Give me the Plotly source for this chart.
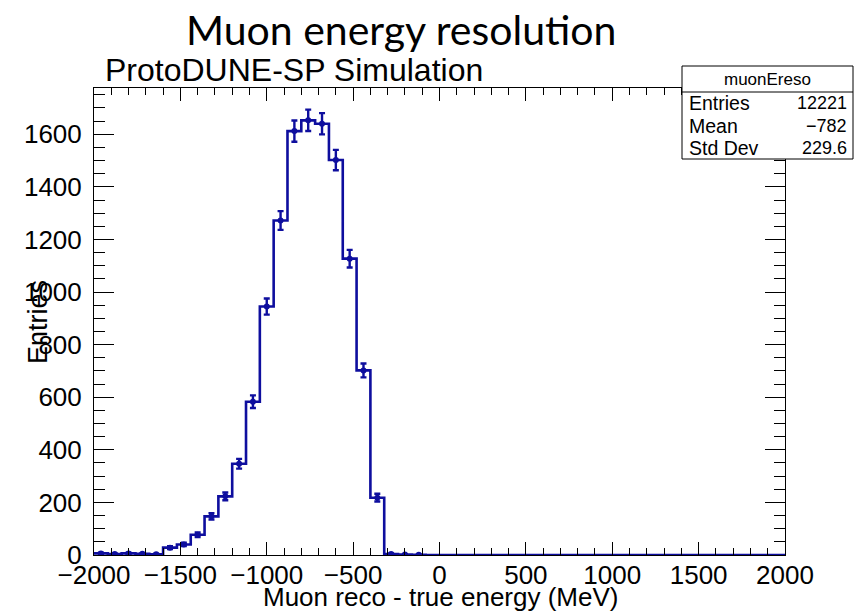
import numpy as np
import plotly.graph_objects as go

# ---- data ----
bin_low = -2000
bin_width = 80
counts = [6, 4, 6, 5, 3,
          28, 40, 77, 147, 223,
          347, 583, 945, 1272, 1612,
          1653, 1640, 1502, 1127, 702,
          218, 4, 2, 1, 0,
          0, 0, 0, 0, 0,
          0, 0, 0, 0, 0,
          0, 0, 0, 0, 0,
          0, 0, 0, 0, 0,
          0, 0, 0, 0, 0]
stats_labels = ["Entries", "Mean", "Std Dev"]
stats_values = ["12221", "\u2212782", "229.6"]
hist_name = "muonEreso"

edges = [bin_low + bin_width * i for i in range(len(counts) + 1)]
centers = [bin_low + bin_width * (i + 0.5) for i in range(len(counts))]
errs = [float(np.sqrt(c)) for c in counts]

COL = "#0e0e9e"
FONT = "Liberation Sans, Arial, sans-serif"

# plot area in pixels
W, H = 856, 613
L, R, T, B = 94, 785, 88, 555

def px(x):
    return (x - L) / (R - L)

def py(y):
    return (B - y) / (B - T)

fig = go.Figure()
fig.add_trace(go.Scatter(
    x=edges, y=counts + [counts[-1]], mode="lines", line_shape="hv",
    line=dict(color=COL, width=2.6), hoverinfo="skip", showlegend=False))

nz = [i for i, c in enumerate(counts) if c > 0]
fig.add_trace(go.Scatter(
    x=[centers[i] for i in nz], y=[counts[i] for i in nz], mode="markers",
    marker=dict(size=0, color=COL),
    error_y=dict(type="data", array=[errs[i] for i in nz], color=COL,
                 thickness=2.4, width=3),
    showlegend=False))

fig.update_layout(
    width=W, height=H,
    margin=dict(l=L, r=W - R, t=T, b=H - B, pad=0),
    paper_bgcolor="white", plot_bgcolor="white",
    font=dict(family=FONT, color="black"),
    showlegend=False,
)
fig.update_xaxes(
    range=[-2000, 2000], tickmode="linear", tick0=-2000, dtick=500,
    ticks="inside", ticklen=13, tickwidth=1, tickcolor="black",
    minor=dict(ticks="inside", dtick=100, ticklen=7, tickwidth=1, tickcolor="black"),
    showline=True, linecolor="black", linewidth=1, mirror="allticks",
    showgrid=False, zeroline=False,
    tickfont=dict(size=26, family=FONT, color="black"), ticklabelstandoff=-3)
fig.update_yaxes(
    range=[0, 1776], tickmode="linear", tick0=0, dtick=200,
    ticks="inside", ticklen=20, tickwidth=1, tickcolor="black",
    minor=dict(ticks="inside", dtick=50, ticklen=11, tickwidth=1, tickcolor="black"),
    showline=True, linecolor="black", linewidth=1, mirror="allticks",
    showgrid=False, zeroline=False,
    tickfont=dict(size=26, family=FONT, color="black"), ticklabelstandoff=6)

ann = []
ann.append(dict(text="Muon energy resolution", x=px(401), y=py(30), xref="paper", yref="paper",
                showarrow=False, xanchor="center", yanchor="middle",
                font=dict(family="Lato, sans-serif", size=41, color="black")))
ann.append(dict(text="ProtoDUNE-SP Simulation", x=px(103), y=py(70), xref="paper", yref="paper",
                showarrow=False, xanchor="left", yanchor="middle",
                font=dict(family=FONT, size=32, color="black")))
ann.append(dict(text="Muon reco - true energy (MeV)", x=px(440), y=py(597), xref="paper", yref="paper",
                showarrow=False, xanchor="center", yanchor="middle",
                font=dict(family=FONT, size=26, color="black")))
ann.append(dict(text="Entries", x=px(38), y=py(322), xref="paper", yref="paper",
                showarrow=False, xanchor="center", yanchor="middle", textangle=-90,
                font=dict(family=FONT, size=27, color="black")))

# stats box
bx0, bx1, by0, by1, bsep = 682, 853, 66, 159, 92
shapes = [
    dict(type="rect", xref="paper", yref="paper", x0=px(bx0), x1=px(bx1), y0=py(by1), y1=py(by0),
         line=dict(color="black", width=1), fillcolor="white", layer="above"),
    dict(type="line", xref="paper", yref="paper", x0=px(bx0), x1=px(bx1), y0=py(bsep), y1=py(bsep),
         line=dict(color="black", width=1), layer="above"),
]
ann.append(dict(text=hist_name, x=px((bx0 + bx1) / 2), y=py(79), xref="paper", yref="paper",
                showarrow=False, xanchor="center", yanchor="middle",
                font=dict(family=FONT, size=17, color="black")))
row_y = [103, 126, 148]
for lab, val, yy in zip(stats_labels, stats_values, row_y):
    ann.append(dict(text=lab, x=px(687), y=py(yy), xref="paper", yref="paper",
                    showarrow=False, xanchor="left", yanchor="middle",
                    font=dict(family=FONT, size=19.5, color="black")))
    ann.append(dict(text=val, x=px(849), y=py(yy), xref="paper", yref="paper",
                    showarrow=False, xanchor="right", yanchor="middle",
                    font=dict(family=FONT, size=18, color="black")))

fig.update_layout(annotations=ann, shapes=shapes)
fig.write_html("out.html")
